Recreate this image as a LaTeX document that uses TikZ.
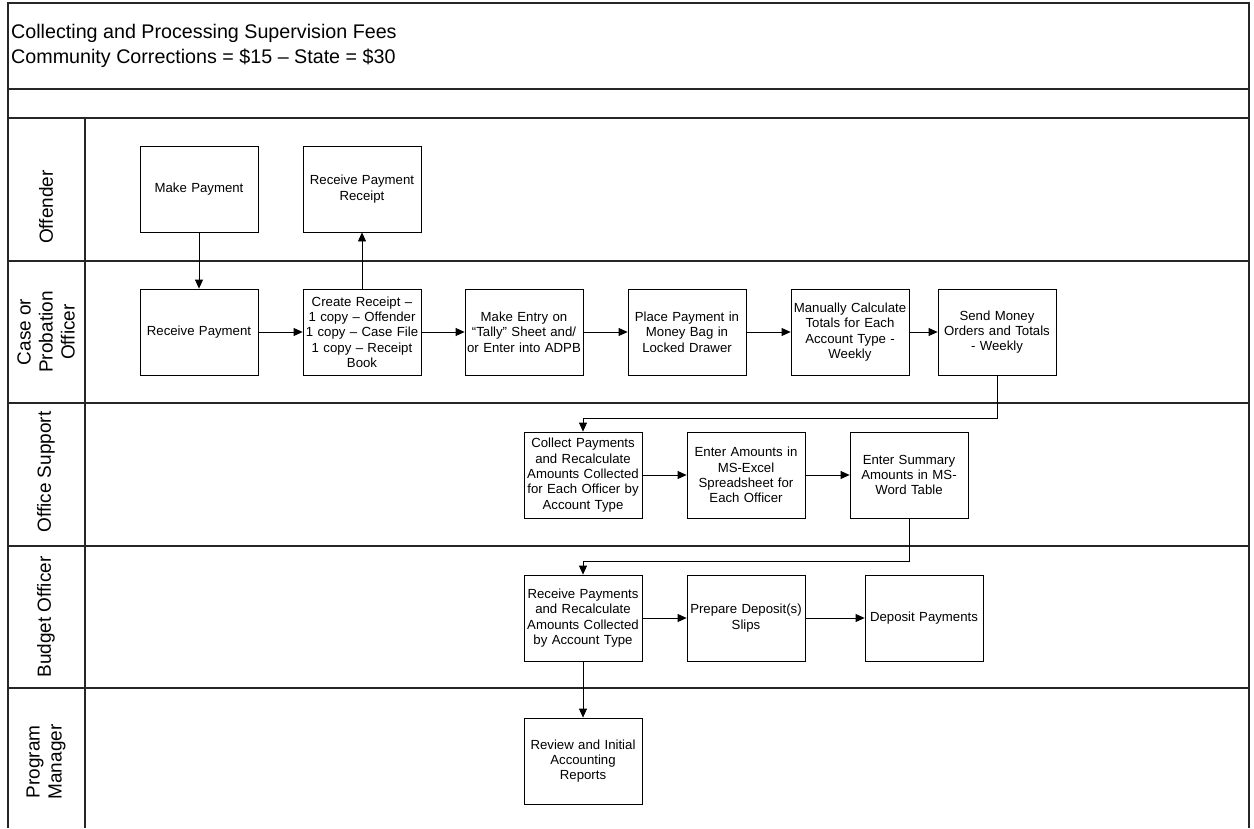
\documentclass[tikz,border=0pt]{standalone}
\usepackage{fontspec}
\setmainfont{Liberation Sans}
\usetikzlibrary{arrows.meta}
\begin{document}
\begin{tikzpicture}[x=1pt,y=-1pt,
  box/.style={draw=black, line width=0.8pt, minimum width=118pt, minimum height=86pt,
    inner sep=0pt, align=center, text width=116pt, font=\fontsize{13.2}{15.3}\selectfont},
  lane/.style={line width=1.3pt, draw=black!85},
  arr/.style={-{Triangle[length=9pt,width=8pt]}, line width=0.8pt},
  lbl/.style={rotate=90, align=center, font=\fontsize{19}{22}\selectfont}]
\useasboundingbox (0,0) rectangle (1254,828);
% frame and lanes
\draw[lane] (8,828) -- (8,3) -- (1249,3) -- (1249,828);
\foreach \y in {89,118,261,403,546,688} \draw[lane] (8,\y) -- (1249,\y);
\draw[lane] (85,118) -- (85,828);
% title
\node[anchor=west, align=left, inner sep=0pt, font=\fontsize{19.7}{25}\selectfont] (title) at (11,46)
  {Collecting and Processing Supervision Fees\\Community Corrections = \$15 – State = \$30};
% lane labels
\node[lbl] (l1) at (46,207) {Offender};
\node[lbl] (l2) at (46,332) {Case or\\Probation\\Officer};
\node[lbl] (l3) at (46,472) {Office Support};
\node[lbl] (l4) at (46,617) {Budget Officer};
\node[lbl] (l5) at (46,762) {Program\\Manager};
% boxes
\node[box] (mp) at (199,189) {Make Payment};
\node[box] (rpr) at (362,189) {Receive Payment\\Receipt};
\node[box] (rp) at (199,332) {Receive Payment};
\node[box] (cr) at (362,332) {Create Receipt –\\1 copy – Offender\\1 copy – Case File\\1 copy – Receipt\\Book};
\node[box] (me) at (524,332) {Make Entry on\\“Tally” Sheet and/\\or Enter into ADPB};
\node[box] (pp) at (687,332) {Place Payment in\\Money Bag in\\Locked Drawer};
\node[box] (mc) at (850,332) {Manually Calculate\\Totals for Each\\Account Type -\\Weekly};
\node[box] (sm) at (997,332) {Send Money\\Orders and Totals\\- Weekly};
\node[box] (cp) at (583,475) {Collect Payments\\and Recalculate\\Amounts Collected\\for Each Officer by\\Account Type};
\node[box] (ea) at (746,475) {Enter Amounts in\\MS-Excel\\Spreadsheet for\\Each Officer};
\node[box] (es) at (909,475) {Enter Summary\\Amounts in MS-\\Word Table};
\node[box] (rps) at (583,618) {Receive Payments\\and Recalculate\\Amounts Collected\\by Account Type};
\node[box] (pd) at (746,618) {Prepare Deposit(s)\\Slips};
\node[box] (dp) at (924,618) {Deposit Payments};
\node[box] (rv) at (583,761) {Review and Initial\\Accounting\\Reports};
% connectors
\draw[arr] (mp) -- (rp);
\draw[arr] (cr) -- (rpr);
\draw[arr] (rp) -- (cr);
\draw[arr] (cr) -- (me);
\draw[arr] (me) -- (pp);
\draw[arr] (pp) -- (mc);
\draw[arr] (mc) -- (sm);
\draw[arr] (sm.south) -- ++(0,43) -| (cp.north);
\draw[arr] (cp) -- (ea);
\draw[arr] (ea) -- (es);
\draw[arr] (es.south) -- ++(0,43) -| (rps.north);
\draw[arr] (rps) -- (pd);
\draw[arr] (pd) -- (dp);
\draw[arr] (rps) -- (rv);
\end{tikzpicture}
\end{document}
